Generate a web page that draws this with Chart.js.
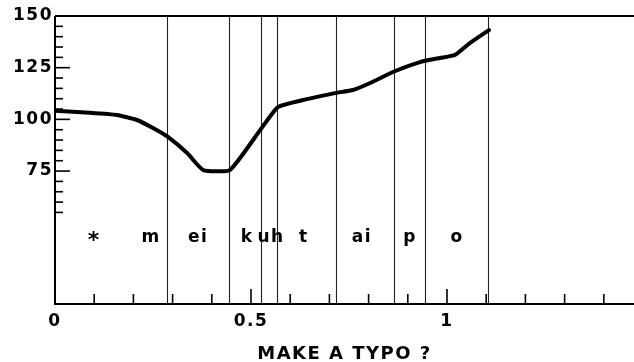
<!DOCTYPE html>
<html>
<head>
<meta charset="utf-8">
<script src="https://cdn.jsdelivr.net/npm/chart.js@4.4.1/dist/chart.umd.min.js"></script>
<style>
  html, body { margin: 0; padding: 0; background: #fff; }
  #c { display: block; }
</style>
</head>
<body>
<canvas id="c" width="634" height="362"></canvas>
<script>
// ---- data ----
const timeSec = [0, 0.089, 0.158, 0.209, 0.25, 0.288, 0.337, 0.378, 0.446, 0.523, 0.569, 0.643, 0.714, 0.760, 0.804, 0.862, 0.931, 0.982, 1.020, 1.059, 1.107];
const pitchHz = [104.2, 103.2, 102.1, 99.7, 95.8, 91.5, 83.7, 75.5, 75.5, 94.7, 106, 109.8, 112.7, 114.2, 117.6, 122.9, 127.7, 129.7, 131.1, 137, 143.2];
const segmentBoundaries = [0.286, 0.444, 0.526, 0.566, 0.717, 0.865, 0.944, 1.105];
const phonemeLabels = ['*', 'm', 'ei', 'k', 'uh', 't', 'ai', 'p', 'o'];
const phonemeCenters = [0.10, 0.245, 0.365, 0.49, 0.551, 0.635, 0.783, 0.906, 1.026];
const xTickLabels = [0, 0.5, 1];
const yTickLabels = [75, 100, 125, 150];
const xMinorTicks = [0.1, 0.2, 0.3, 0.4, 0.6, 0.7, 0.8, 0.9, 1.1, 1.2, 1.3, 1.4];
const yMinorTicks = [55, 60, 65, 70, 80, 85, 90, 95, 105, 110, 115, 120, 130, 135, 140, 145];
const axisTitle = 'MAKE A TYPO ?';

const FONT = "'DejaVu Sans', sans-serif";
const labelRowValue = 43;

const decor = {
  id: 'decor',
  beforeDraw(chart) {
    chart.ctx.letterSpacing = '1.5px';
  },
  beforeDatasetsDraw(chart) {
    const { ctx, chartArea: a, scales: { x } } = chart;
    ctx.save();
    ctx.strokeStyle = '#222';
    ctx.lineWidth = 1.1;
    segmentBoundaries.forEach(b => {
      const px = Math.round(x.getPixelForValue(b)) + 0.5;
      ctx.beginPath();
      ctx.moveTo(px, a.top);
      ctx.lineTo(px, a.bottom);
      ctx.stroke();
    });
    ctx.restore();
  },
  afterDatasetsDraw(chart) {
    const { ctx, chartArea: a, scales: { x, y } } = chart;
    ctx.save();
    ctx.strokeStyle = '#000';
    ctx.lineWidth = 2;
    ctx.beginPath();
    ctx.moveTo(a.left, a.top); ctx.lineTo(a.left, a.bottom); ctx.lineTo(a.right, a.bottom);
    ctx.moveTo(a.left, a.top); ctx.lineTo(a.right, a.top);
    ctx.stroke();
    ctx.lineWidth = 1.6;
    const xt = (v, len) => {
      const px = x.getPixelForValue(v);
      ctx.beginPath(); ctx.moveTo(px, a.bottom); ctx.lineTo(px, a.bottom - len); ctx.stroke();
    };
    xMinorTicks.forEach(v => xt(v, 10));
    xTickLabels.forEach(v => { if (v !== 0) xt(v, 15); });
    const yt = (v, len) => {
      const py = y.getPixelForValue(v);
      ctx.beginPath(); ctx.moveTo(a.left, py); ctx.lineTo(a.left + len, py); ctx.stroke();
    };
    yMinorTicks.forEach(v => yt(v, 8));
    yTickLabels.forEach(v => { if (v !== 150) yt(v, 15); });
    ctx.fillStyle = '#000';
    ctx.font = "bold 17px " + FONT;
    ctx.textAlign = 'center';
    ctx.textBaseline = 'middle';
    const py = y.getPixelForValue(labelRowValue);
    phonemeLabels.forEach((lab, i) => {
      const px = x.getPixelForValue(phonemeCenters[i]);
      if (lab === '*') {
        ctx.save();
        ctx.font = "bold 22px " + FONT;
        ctx.fillText(lab, px, py + 4);
        ctx.restore();
      } else {
        ctx.fillText(lab, px, py);
      }
    });
    ctx.restore();
  }
};

new Chart(document.getElementById('c'), {
  type: 'line',
  data: {
    datasets: [{
      data: timeSec.map((t, i) => ({ x: t, y: pitchHz[i] })),
      borderColor: '#000',
      borderWidth: 4,
      pointRadius: 0,
      tension: 0.15,
      fill: false,
      borderCapStyle: 'round',
      borderJoinStyle: 'round'
    }]
  },
  options: {
    responsive: false,
    devicePixelRatio: 1,
    animation: false,
    layout: { padding: { top: 16, left: 0, right: 0, bottom: 0 } },
    plugins: { legend: { display: false }, tooltip: { enabled: false } },
    scales: {
      x: {
        type: 'linear',
        min: 0,
        max: 1.477,
        afterBuildTicks: s => { s.ticks = xTickLabels.map(v => ({ value: v })); },
        afterFit: s => { s.height = 58; },
        grid: { display: false, drawTicks: false },
        border: { display: false },
        ticks: {
          color: '#000',
          font: { family: FONT, size: 17, weight: 'bold' },
          padding: 7,
          maxRotation: 0,
          autoSkip: false,
          callback: v => String(v)
        },
        title: {
          display: true,
          text: axisTitle,
          color: '#000',
          font: { family: FONT, size: 18, weight: 'bold' },
          padding: { top: 0, bottom: -3 }
        }
      },
      y: {
        type: 'linear',
        min: 10.7,
        max: 150,
        afterBuildTicks: s => { s.ticks = yTickLabels.map(v => ({ value: v })); },
        afterFit: s => { s.width = 55; },
        grid: { display: false, drawTicks: false },
        border: { display: false },
        ticks: {
          color: '#000',
          font: { family: FONT, size: 17, weight: 'bold' },
          padding: 2,
          autoSkip: false,
          callback: v => String(v)
        }
      }
    }
  },
  plugins: [decor]
});
</script>
</body>
</html>
